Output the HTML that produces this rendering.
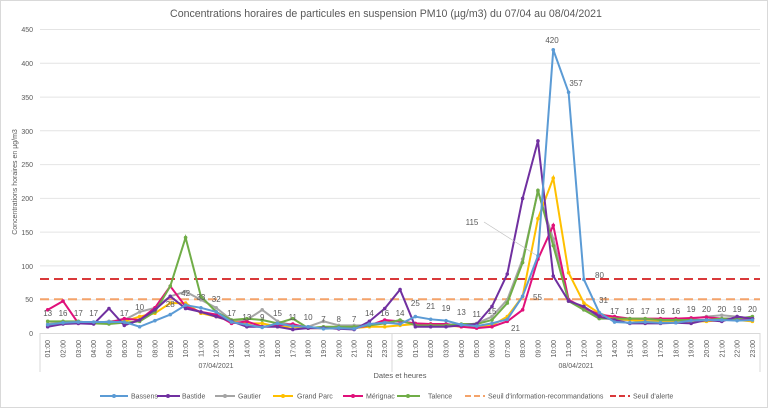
<!DOCTYPE html>
<html><head><meta charset="utf-8">
<style>
html,body{margin:0;padding:0;background:#fff;}
svg{display:block;font-family:"Liberation Sans",sans-serif;}
</style></head>
<body>
<svg id="c" width="768" height="408" viewBox="0 0 768 408" xmlns="http://www.w3.org/2000/svg">
<rect x="0.5" y="0.5" width="767" height="407" fill="#fff" stroke="#d9d9d9"/>
<text x="386" y="17" font-size="10.6" fill="#595959" text-anchor="middle">Concentrations horaires de particules en suspension PM10 (µg/m3) du 07/04 au 08/04/2021</text>
<g stroke="#e4e4e4" stroke-width="1">
<line x1="40" x2="760" y1="29.5" y2="29.5"/><line x1="40" x2="760" y1="63.3" y2="63.3"/>
<line x1="40" x2="760" y1="97.1" y2="97.1"/><line x1="40" x2="760" y1="130.8" y2="130.8"/>
<line x1="40" x2="760" y1="164.6" y2="164.6"/><line x1="40" x2="760" y1="198.4" y2="198.4"/>
<line x1="40" x2="760" y1="232.1" y2="232.1"/><line x1="40" x2="760" y1="265.9" y2="265.9"/>
<line x1="40" x2="760" y1="299.7" y2="299.7"/>
</g>
<g stroke="#d9d9d9"><line x1="40" x2="760" y1="333.5" y2="333.5"/>
<line x1="40" x2="40" y1="333" y2="372"/><line x1="392" x2="392" y1="333" y2="372"/><line x1="760" x2="760" y1="333" y2="372"/></g>
<g font-size="7" fill="#595959" text-anchor="end">
<text x="33" y="32">450</text><text x="33" y="66">400</text><text x="33" y="100">350</text>
<text x="33" y="134">300</text><text x="33" y="167">250</text><text x="33" y="201">200</text>
<text x="33" y="235">150</text><text x="33" y="269">100</text><text x="33" y="302">50</text>
<text x="33" y="336">0</text>
</g>
<text transform="translate(17,182) rotate(-90)" font-size="7" fill="#595959" text-anchor="middle">Concentrations horaires en µg/m3</text>
<g id="ticks" font-size="7" fill="#595959" text-anchor="end"></g>
<text x="216" y="368" font-size="7" fill="#595959" text-anchor="middle">07/04/2021</text>
<text x="576" y="368" font-size="7" fill="#595959" text-anchor="middle">08/04/2021</text>
<text x="400" y="378" font-size="7.5" fill="#595959" text-anchor="middle">Dates et heures</text>
<line x1="40" x2="760" y1="299.2" y2="299.2" stroke="#F4A36A" stroke-width="2" stroke-dasharray="9,5"/>
<line x1="40" x2="760" y1="279" y2="279" stroke="#D9383A" stroke-width="2" stroke-dasharray="9,5"/>
<g id="series"></g>
<g id="labels" font-size="8" fill="#595959" text-anchor="middle"></g>
<g font-size="8" fill="#595959">
<text x="472" y="225" text-anchor="middle">115</text>
<line x1="484" y1="222" x2="536" y2="255" stroke="#bfbfbf" stroke-width="0.7"/>
<text x="552" y="43" text-anchor="middle">420</text>
<text x="576" y="86" text-anchor="middle">357</text>
<text x="595" y="278">80</text>
<text x="533" y="300">55</text>
<text x="511" y="331">21</text>
<text x="599" y="303">31</text>
</g>
<g font-size="7" fill="#595959" id="legend">
<line x1="100" x2="128" y1="396" y2="396" stroke="#5B9BD5" stroke-width="2"/><circle cx="114" cy="396" r="2" fill="#5B9BD5"/><text x="131" y="398.5">Bassens</text>
<line x1="157" x2="180" y1="396" y2="396" stroke="#7030A0" stroke-width="2"/><circle cx="168" cy="396" r="2" fill="#7030A0"/><text x="182" y="398.5">Bastide</text>
<line x1="215" x2="235" y1="396" y2="396" stroke="#A5A5A5" stroke-width="2"/><circle cx="225" cy="396" r="2" fill="#A5A5A5"/><text x="238" y="398.5">Gautier</text>
<line x1="273" x2="293" y1="396" y2="396" stroke="#FFC000" stroke-width="2"/><circle cx="283" cy="396" r="2" fill="#FFC000"/><text x="297" y="398.5">Grand Parc</text>
<line x1="343" x2="363" y1="396" y2="396" stroke="#E0107A" stroke-width="2"/><circle cx="353" cy="396" r="2" fill="#E0107A"/><text x="366" y="398.5">Mérignac</text>
<line x1="397" x2="420" y1="396" y2="396" stroke="#70AD47" stroke-width="2"/><circle cx="408" cy="396" r="2" fill="#70AD47"/><text x="428" y="398.5">Talence</text>
<line x1="465" x2="485" y1="396" y2="396" stroke="#F4A36A" stroke-width="2" stroke-dasharray="6,3"/><text x="488" y="398.5">Seuil d'information-recommandations</text>
<line x1="610" x2="630" y1="396" y2="396" stroke="#D9383A" stroke-width="2" stroke-dasharray="6,3"/><text x="633" y="398.5">Seuil d'alerte</text>
</g>
</svg>
<script>
var NS="http://www.w3.org/2000/svg";
function X(i){return 47.7+15.32*i;}
function Y(v){return 333.5-v*0.6756;}
var times=["01:00","02:00","03:00","04:00","05:00","06:00","07:00","08:00","09:00","10:00","11:00","12:00","13:00","14:00","15:00","16:00","17:00","18:00","19:00","20:00","21:00","22:00","23:00","00:00","01:00","02:00","03:00","04:00","05:00","06:00","07:00","08:00","09:00","10:00","11:00","12:00","13:00","14:00","15:00","16:00","17:00","18:00","19:00","20:00","21:00","22:00","23:00"];
var tg=document.getElementById("ticks");
times.forEach(function(t,i){var e=document.createElementNS(NS,"text");e.setAttribute("transform","translate("+(X(i)+2.5)+",340) rotate(-90)");e.textContent=t;tg.appendChild(e);});
var S=[
["#A5A5A5",[14,17,17,15,18,20,32,38,55,62,50,38,20,20,35,18,12,10,18,12,12,12,18,18,14,14,14,12,15,25,50,110,210,140,50,35,25,20,20,20,20,20,22,25,27,25,22]],
["#FFC000",[12,16,16,16,16,18,25,30,45,45,30,25,18,15,15,10,10,8,8,8,8,10,10,12,14,14,12,10,10,12,25,55,170,230,90,45,30,22,20,18,18,18,18,18,20,20,18]],
["#E0107A",[35,48,15,16,16,22,20,38,70,40,32,28,15,18,10,12,14,8,8,7,8,12,20,18,15,14,14,10,8,10,18,35,110,160,50,38,28,25,22,22,22,22,23,24,22,22,22]],
["#70AD47",[18,18,18,15,14,16,18,32,70,142,55,32,20,22,20,15,22,8,10,10,10,12,15,20,12,12,12,14,14,20,45,105,212,130,48,35,22,22,22,22,20,20,20,20,22,22,25]],
["#7030A0",[10,14,15,14,37,12,20,35,55,37,32,25,18,10,10,10,6,8,8,7,6,18,37,65,10,10,10,12,14,40,88,200,285,85,48,40,25,20,15,15,15,16,15,20,18,25,22]],
["#5B9BD5",[13,16,17,17,17,17,10,19,28,42,38,32,17,13,9,15,11,10,7,8,7,14,16,14,25,21,19,13,11,15,21,55,115,420,357,80,31,17,16,17,16,16,19,20,20,19,20]]
];
var sg=document.getElementById("series");
S.forEach(function(s){var p=document.createElementNS(NS,"polyline");p.setAttribute("points",s[1].map(function(v,i){return X(i)+","+Y(v);}).join(" "));p.setAttribute("fill","none");p.setAttribute("stroke",s[0]);p.setAttribute("stroke-width","2");sg.appendChild(p);
s[1].forEach(function(v,i){var c=document.createElementNS(NS,"circle");c.setAttribute("cx",X(i));c.setAttribute("cy",Y(v));c.setAttribute("r","1.8");c.setAttribute("fill",s[0]);sg.appendChild(c);});});
var lab=[13,16,17,17,null,17,10,null,28,42,33,32,17,13,9,15,11,10,7,8,7,14,16,14,25,21,19,13,11,15];
var ly=[316,316,316,316,0,316,310,0,307,296,300,302,316,320,320,316,320,320,322,322,322,316,316,316,306,309,311,315,317,314];
var lg=document.getElementById("labels");
lab.forEach(function(v,i){if(v===null)return;var e=document.createElementNS(NS,"text");e.setAttribute("x",X(i));e.setAttribute("y",ly[i]);e.textContent=v;lg.appendChild(e);});
var lab2=[17,16,17,16,16,19,20,20,19,20];
lab2.forEach(function(v,k){var i=37+k;var e=document.createElementNS(NS,"text");e.setAttribute("x",X(i));e.setAttribute("y",k>=5?312:314);e.textContent=v;lg.appendChild(e);});
</script>
</body></html>
